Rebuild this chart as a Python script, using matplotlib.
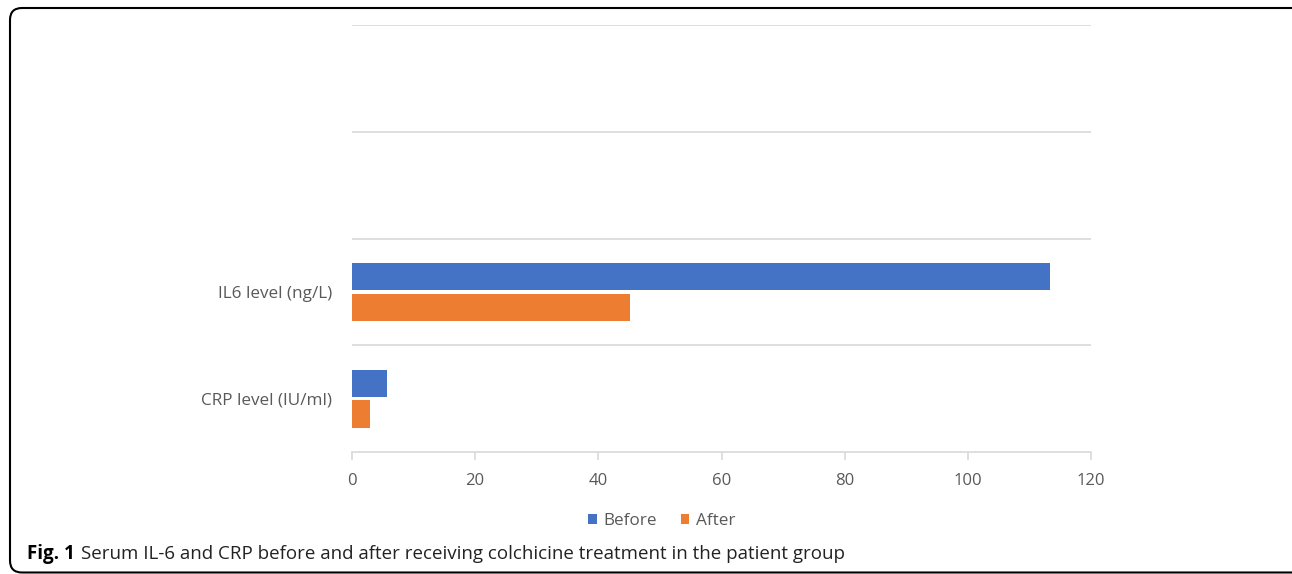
import matplotlib.pyplot as plt
import numpy as np
from matplotlib.patches import FancyBboxPatch

categories = ["CRP level (IU/ml)", "IL6 level (ng/L)", "", ""]
before = [5.7, 113.3]
after = [2.9, 45.2]
series_names = ["Before", "After"]
xticks = [0, 20, 40, 60, 80, 100, 120]

blue = "#4472C4"
orange = "#ED7D31"
grey = "#595959"
font = "Open Sans"

fig = plt.figure(figsize=(12.92, 5.74), dpi=100)
ax = fig.add_axes([352/1292, 1-452/574, (1091-352)/1292, (452-25)/574])

y = np.arange(len(before))
h = 0.255
ax.barh(y + 0.145, before, height=h, color=blue, label=series_names[0])
ax.barh(y - 0.145, after, height=h, color=orange, label=series_names[1])

ax.set_xlim(0, 120)
ax.set_ylim(-0.5, len(categories) - 0.5)
ax.set_xticks(xticks)
ax.set_xticklabels([str(t) for t in xticks], fontsize=12, color=grey, family=font)
ax.set_yticks(range(len(categories)))
ax.set_yticklabels(categories, fontsize=12.3, color=grey, family=font)
ax.tick_params(axis="y", length=0, pad=14.5)
ax.tick_params(axis="x", length=6, color="#d9d9d9", width=1.2, pad=9)

# category separators
for b in np.arange(0.5, len(categories), 1.0):
    ax.axhline(b, color="#d9d9d9", lw=1.2, zorder=0)

for s in ["top", "right", "left"]:
    ax.spines[s].set_visible(False)
ax.spines["bottom"].set_color("#d9d9d9")
ax.spines["bottom"].set_linewidth(1.2)

leg = fig.legend(loc="center", bbox_to_anchor=(662/1292, 1-521/574), ncol=2, frameon=False,
                 handlelength=0.5, handleheight=0.5, handletextpad=0.4, columnspacing=1.4,
                 prop={"family": font, "size": 12.3})
for t in leg.get_texts():
    t.set_color(grey)

# caption
fig.text(27/1292, 1-559/574, "Fig. 1", fontsize=13.5, fontweight="bold", family=font, va="baseline")
fig.text(81/1292, 1-559/574, "Serum IL-6 and CRP before and after receiving colchicine treatment in the patient group",
         fontsize=13.5, family=font, va="baseline", color="#222222")

# rounded frame (inch coordinates so corners stay round)
box = FancyBboxPatch((0.10, 0.015), 13.0, 5.645, boxstyle="round,pad=0,rounding_size=0.12",
                     transform=fig.dpi_scale_trans, fill=False, edgecolor="black", lw=1.5)
fig.patches.append(box)

fig.savefig("out.png", dpi=100)
